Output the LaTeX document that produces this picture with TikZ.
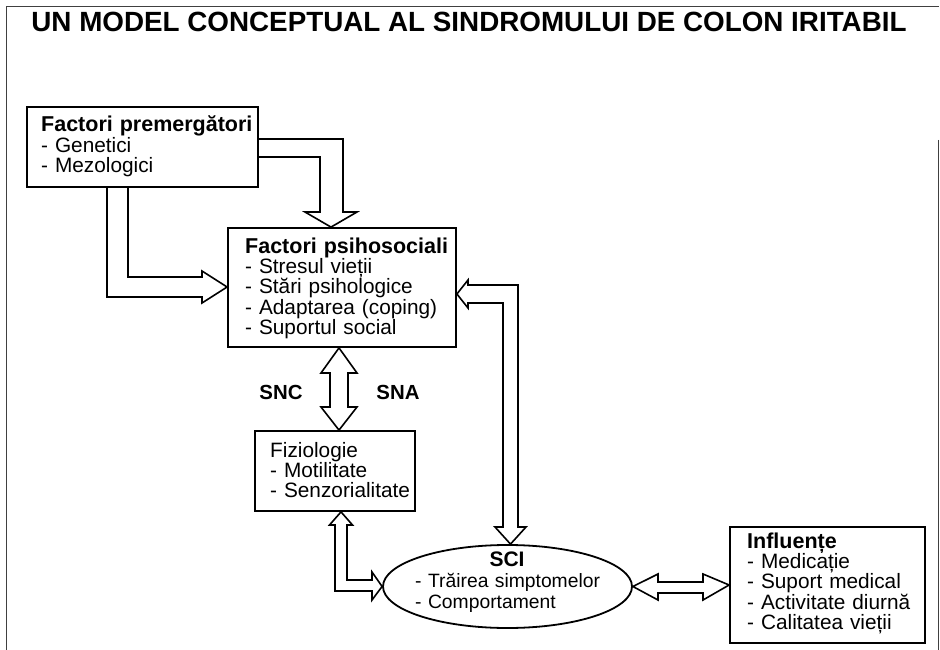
\documentclass[tikz,border=0pt]{standalone}
\usepackage{fontspec}
\setmainfont{Liberation Sans}
\usetikzlibrary{shapes.geometric}

\newcommand\bodyfont{\fontsize{20.8}{20.4}\selectfont}
\newcommand\headfont{\fontsize{21.5}{20.4}\selectfont\bfseries}

\begin{document}
\begin{tikzpicture}[x=1pt,y=-1pt,
  frameline/.style={draw=black!75, line width=1pt},
  box/.style={draw, rectangle, line width=1.8pt, inner sep=0pt},
  txt/.style={inner sep=0pt, text width=230pt, align=left, anchor=base west, font=\bodyfont},
  lbl/.style={inner sep=0pt, anchor=base, font=\headfont},
  hollow/.style={draw, line width=1.6pt, line join=miter}]
\useasboundingbox (0,0) rectangle (940,650);

% frame and title
\draw[frameline] (6,650) -- (6,7) -- (939,7);
\draw[frameline] (938,140) -- (938,650);
\node[inner sep=0pt, anchor=base, font=\fontsize{27.8}{30}\selectfont\bfseries]
  (title) at (469,32) {UN MODEL CONCEPTUAL AL SINDROMULUI DE COLON IRITABIL};

% boxes
\node[box, minimum width=231pt, minimum height=80pt]  (b1)  at (142.5,147) {};
\node[box, minimum width=228pt, minimum height=119pt] (b2)  at (342,287.5) {};
\node[box, minimum width=160pt, minimum height=80pt]  (fz)  at (335,471) {};
\node[box, minimum width=195pt, minimum height=116pt] (inf) at (827.5,585) {};
\node[draw, ellipse, line width=1.8pt, inner sep=0pt,
      minimum width=249pt, minimum height=83pt] (sci) at (507.5,586.5) {};

% box texts
\node[txt] (b1t) at (41,132) {{\headfont Factori premergători}\\- Genetici\\- Mezologici};
\node[txt] (b2t) at (245,253) {{\headfont Factori psihosociali}\\- Stresul vieții\\- Stări psihologice\\- Adaptarea (coping)\\- Suportul social};
\node[txt] (fzt) at (270,457) {Fiziologie\\- Motilitate\\- Senzorialitate};
\node[txt] (inft) at (747,548) {{\headfont Influențe}\\- Medicație\\- Suport medical\\- Activitate diurnă\\- Calitatea vieții};
\node[lbl, font=\fontsize{21}{20}\selectfont\bfseries] (scit) at (507,566) {SCI};
\node[txt, font=\fontsize{19.3}{21}\selectfont] (scil) at (415,587) {- Trăirea simptomelor\\- Comportament};
\node[lbl, font=\fontsize{20.4}{20}\selectfont\bfseries] (snc) at (281,399) {SNC};
\node[lbl, font=\fontsize{20.4}{20}\selectfont\bfseries] (sna) at (398,399) {SNA};

% hollow arrows
% premergatori -> psihosociali (right, then down)
\draw[hollow] (b1.east |- 0,139) -- (343,139) -- (343,212) -- (357,212)
  -- (331,0 |- b2.north) -- (305,212) -- (320,212) -- (320,157) -- (b1.east |- 0,157);
% premergatori -> psihosociali (down, then right)
\draw[hollow] (107,0 |- b1.south) -- (107,297) -- (202,297) -- (202,303)
  -- (b2.west |- 0,287) -- (202,271) -- (202,277) -- (128,277) -- (128,0 |- b1.south);
% psihosociali <-> fiziologie
\draw[hollow] (339,0 |- b2.south) -- (357,373) -- (348,373) -- (348,407) -- (357,407)
  -- (339,0 |- fz.north) -- (321,407) -- (330,407) -- (330,373) -- (321,373) -- cycle;
% fiziologie <-> SCI
\draw[hollow] (341,0 |- fz.south) -- (352.5,525) -- (347,525) -- (347,580) -- (372,580)
  -- (372,572) -- (sci.west) -- (372,600) -- (372,591) -- (335,591) -- (335,525)
  -- (329.5,525) -- cycle;
% SCI -> psihosociali (up, then left)
\draw[hollow] (510.5,0 |- sci.north) -- (526,527) -- (518,527) -- (518,285) -- (468,285)
  -- (468,280) -- (b2.east |- 0,294) -- (468,308) -- (468,303) -- (503,303) -- (503,527)
  -- (495,527) -- cycle;
% SCI <-> influente
\draw[hollow] (sci.east) -- (658,574) -- (658,582) -- (703,582) -- (703,574)
  -- (inf.west) -- (703,600) -- (703,593) -- (658,593) -- (658,600) -- cycle;
\end{tikzpicture}
\end{document}
